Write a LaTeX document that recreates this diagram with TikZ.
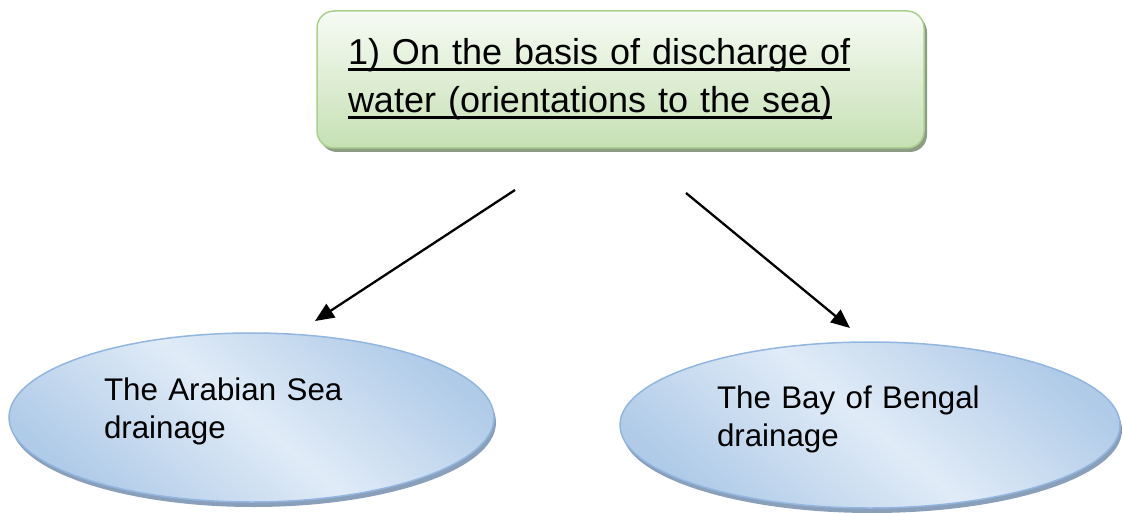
\documentclass[tikz,border=0pt]{standalone}
\usepackage{fontspec}
\setmainfont{Liberation Sans}
\usepackage{xcolor}
\usepackage{tikz}
\usetikzlibrary{arrows.meta,shapes.geometric,shadows}

\definecolor{boxline}{HTML}{A9D18E}
\definecolor{boxtop}{HTML}{F7FBF4}
\definecolor{boxbot}{HTML}{C6E0B4}
\definecolor{boxshade}{HTML}{8E9C86}
\definecolor{seaedge}{HTML}{92B6E0}
\definecolor{seadark}{HTML}{B0CBE8}
\definecolor{sealight}{HTML}{E0EBF7}
\definecolor{seashade}{HTML}{8A9FBA}

\newcommand{\ulbar}[1]{\leavevmode\sbox0{#1}\rlap{\rule[-6pt]{\wd0}{2.4pt}}\usebox0}
\newcommand{\lowstrut}{\rule[-18pt]{0pt}{0pt}}

\begin{document}
\begin{tikzpicture}[
  x=1pt, y=-1pt,
  topbox/.style={draw=boxline, line width=1.5pt, rounded corners=17pt, top color=boxtop, bottom color=boxbot,
    drop shadow={shadow xshift=3pt, shadow yshift=-4pt, fill=boxshade, opacity=1},
    minimum width=607pt, minimum height=137pt, text width=545pt, inner sep=0pt, align=left,
    font=\fontsize{36pt}{48pt}\selectfont},
  sea/.style={ellipse, draw=seaedge, line width=1.5pt, top color=seadark, bottom color=seadark, middle color=sealight,
    shading angle=-40, drop shadow={shadow xshift=2pt, shadow yshift=-5pt, fill=seashade, opacity=1},
    inner sep=0pt, align=left, font=\fontsize{31.3pt}{38pt}\selectfont},
  arr/.style={-{Triangle[length=19pt,width=16pt]}, line width=2.3pt}
]
\useasboundingbox (0,0) rectangle (1123,513);
\node[topbox] (basis) at (620.5,79.5) {\ulbar{1) On the basis of discharge of}\\\ulbar{water (orientations to the sea)}};
\node[sea, minimum width=485pt, minimum height=169pt, text width=295pt] (arab) at (251.5,417.5) {The Arabian Sea\\drainage\lowstrut};
\node[sea, minimum width=500pt, minimum height=166pt, text width=306pt] (bay) at (870,425) {The Bay of Bengal\\drainage\lowstrut};
% free ends of the two arrows
\coordinate (l0) at (515,190);
\coordinate (l1) at (315,321);
\coordinate (r0) at (686,193);
\coordinate (r1) at (850,328);
\draw[arr] (l0) -- (l1);
\draw[arr] (r0) -- (r1);
\end{tikzpicture}
\end{document}
